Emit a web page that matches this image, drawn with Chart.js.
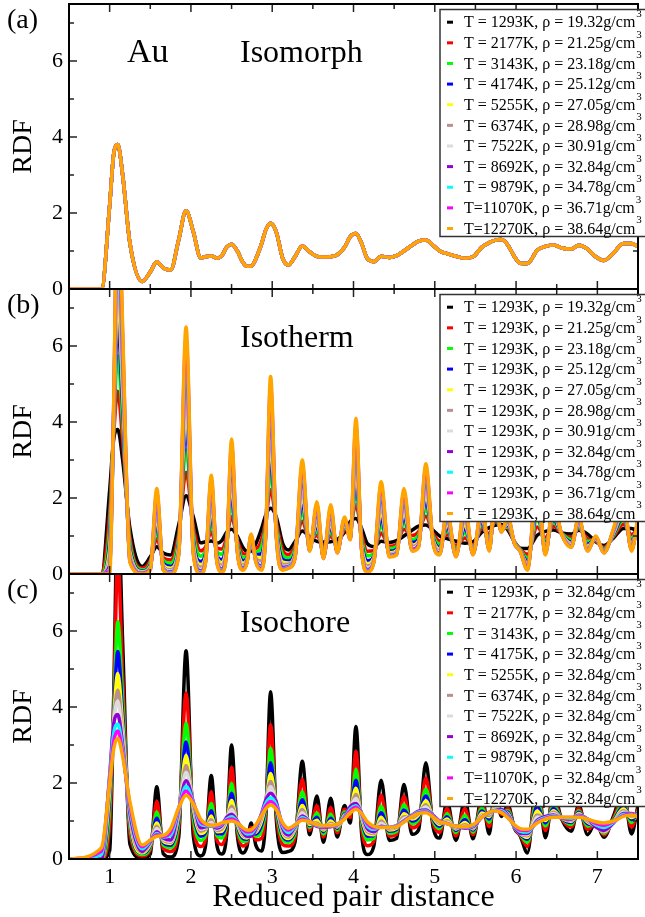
<!DOCTYPE html>
<html>
<head>
<meta charset="utf-8">
<script src="https://cdn.jsdelivr.net/npm/chart.js@4.4.1/dist/chart.umd.min.js"></script>
<style>
  html, body { margin: 0; padding: 0; background: #fff; }
  #wrap { position: relative; width: 645px; height: 917px; }
  #wrap canvas { position: absolute; left: 0; top: 0; }
</style>
</head>
<body>
<div id="wrap">
  <canvas id="panelA" width="645" height="917"></canvas>
  <canvas id="panelB" width="645" height="917"></canvas>
  <canvas id="panelC" width="645" height="917"></canvas>
</div>
<script>
// reduced pair distance, shared by every curve
const rdist = [0.5,0.9,1.0,1.05,1.1,1.16,1.25,1.4,1.5,1.58,
  1.66,1.75,1.85,1.94,2.03,2.12,2.18,2.25,2.32,2.38,
  2.44,2.5,2.57,2.64,2.69,2.74,2.8,2.87,2.92,2.98,
  3.05,3.13,3.2,3.28,3.37,3.46,3.55,3.63,3.72,3.8,
  3.89,3.96,4.03,4.1,4.17,4.25,4.34,4.44,4.53,4.62,
  4.72,4.8,4.89,4.98,5.06,5.15,5.26,5.37,5.47,5.58,
  5.67,5.74,5.82,5.9,5.98,6.05,6.14,6.26,6.36,6.46,
  6.56,6.68,6.77,6.88,6.98,7.08,7.2,7.32,7.42,7.5];

// isomorph curve (all isomorph state points fall on it)
const rdfIsomorph = [0,0,2.2,3.55,3.8,3.0,1.2,0.2,0.45,0.72,
  0.55,0.5,1.3,2.06,1.5,0.82,0.85,0.87,0.81,0.88,
  1.1,1.18,1.0,0.7,0.6,0.6,0.8,1.2,1.55,1.73,
  1.5,0.8,0.63,0.85,1.13,0.98,0.86,0.84,0.85,0.9,
  1.1,1.38,1.46,1.2,0.8,0.72,0.86,0.83,0.88,1.0,
  1.15,1.26,1.29,1.15,1.0,0.93,0.86,0.81,0.85,1.1,
  1.22,1.28,1.3,1.15,0.85,0.68,0.67,1.02,1.12,1.16,
  1.08,1.05,1.15,1.05,0.85,0.75,0.95,1.2,1.2,1.12];

// isotherm T = 1293K
const isoR2125 = [0,0,1.63,3.68,4.81,3.49,0.97,0.15,0.36,0.93,
  0.43,0.37,1.09,2.68,1.24,0.61,0.71,1.11,0.68,0.66,
  0.97,1.51,0.9,0.54,0.52,0.66,0.67,0.91,1.41,2.22,
  1.37,0.62,0.51,0.73,1.39,0.88,1.01,0.73,0.99,0.81,
  1.16,1.26,1.83,1.04,0.6,0.61,1.08,0.73,0.78,1.18,
  1.01,1.11,1.52,1.06,0.87,1.04,0.75,0.95,0.76,1.2,
  1.06,1.38,1.25,1.2,0.84,0.66,0.52,1.24,0.96,1.26,
  1.07,0.96,1.2,0.93,0.87,0.7,0.99,1.31,1.04,1.17];
const isoR2318 = [0,0,1.25,3.81,5.74,3.95,0.81,0.11,0.3,1.13,
  0.36,0.28,0.96,3.26,1.07,0.47,0.61,1.34,0.59,0.52,
  0.88,1.82,0.83,0.44,0.47,0.72,0.58,0.73,1.31,2.67,
  1.28,0.5,0.42,0.66,1.63,0.82,1.14,0.65,1.11,0.75,
  1.21,1.17,2.17,0.94,0.48,0.54,1.28,0.67,0.72,1.34,
  0.91,1.02,1.72,1.0,0.78,1.14,0.68,1.08,0.7,1.29,
  0.95,1.47,1.21,1.24,0.83,0.65,0.42,1.45,0.85,1.36,
  1.07,0.9,1.24,0.86,0.89,0.66,1.02,1.42,0.94,1.22];
const isoR2512 = [0,0,0.88,3.92,6.61,4.37,0.66,0.08,0.24,1.32,
  0.28,0.2,0.82,3.79,0.9,0.33,0.52,1.54,0.5,0.38,
  0.8,2.1,0.76,0.34,0.42,0.78,0.5,0.54,1.22,3.08,
  1.2,0.38,0.34,0.58,1.86,0.75,1.27,0.58,1.23,0.69,
  1.26,1.09,2.49,0.84,0.35,0.47,1.47,0.6,0.65,1.49,
  0.82,0.92,1.92,0.94,0.7,1.23,0.61,1.2,0.64,1.37,
  0.85,1.56,1.18,1.29,0.82,0.63,0.33,1.64,0.75,1.45,
  1.06,0.84,1.29,0.78,0.91,0.63,1.05,1.51,0.84,1.27];
const isoR2705 = [0,0,0.66,4.03,7.4,4.75,0.57,0.06,0.2,1.49,
  0.23,0.15,0.74,4.28,0.8,0.25,0.46,1.74,0.45,0.3,
  0.75,2.37,0.72,0.28,0.39,0.83,0.45,0.43,1.16,3.47,
  1.15,0.31,0.29,0.53,2.07,0.71,1.38,0.53,1.34,0.65,
  1.3,1.04,2.78,0.78,0.27,0.43,1.65,0.56,0.61,1.63,
  0.76,0.87,2.1,0.9,0.65,1.32,0.57,1.31,0.6,1.45,
  0.79,1.64,1.16,1.33,0.82,0.62,0.27,1.81,0.69,1.53,
  1.06,0.8,1.33,0.73,0.93,0.61,1.08,1.6,0.78,1.31];
const isoR2898 = [0,0,0.48,4.12,8.12,5.1,0.5,0.04,0.18,1.64,
  0.2,0.11,0.68,4.72,0.72,0.18,0.42,1.91,0.41,0.23,
  0.71,2.6,0.69,0.23,0.37,0.87,0.41,0.34,1.12,3.81,
  1.11,0.25,0.26,0.5,2.25,0.68,1.48,0.5,1.43,0.63,
  1.34,1.01,3.04,0.73,0.21,0.39,1.8,0.53,0.58,1.75,
  0.72,0.82,2.26,0.88,0.61,1.39,0.54,1.4,0.58,1.52,
  0.74,1.71,1.14,1.36,0.81,0.62,0.23,1.97,0.64,1.6,
  1.06,0.78,1.36,0.7,0.94,0.59,1.1,1.68,0.73,1.35];
const isoR3091 = [0,0,0.33,4.21,8.77,5.42,0.43,0.03,0.15,1.78,
  0.17,0.07,0.62,5.12,0.65,0.12,0.38,2.06,0.38,0.17,
  0.67,2.82,0.66,0.19,0.34,0.91,0.37,0.26,1.08,4.12,
  1.07,0.2,0.22,0.47,2.42,0.66,1.58,0.47,1.52,0.6,
  1.38,0.97,3.28,0.69,0.16,0.36,1.94,0.51,0.56,1.86,
  0.68,0.78,2.4,0.85,0.57,1.46,0.51,1.49,0.55,1.58,
  0.69,1.78,1.13,1.39,0.81,0.61,0.19,2.11,0.59,1.67,
  1.05,0.75,1.39,0.67,0.95,0.58,1.12,1.75,0.69,1.38];
const isoR3284 = [0,0,0.22,4.28,9.34,5.7,0.39,0.02,0.13,1.9,
  0.14,0.05,0.58,5.48,0.6,0.08,0.35,2.2,0.35,0.13,
  0.65,3.0,0.64,0.16,0.33,0.95,0.35,0.21,1.05,4.4,
  1.05,0.17,0.2,0.44,2.57,0.64,1.66,0.44,1.6,0.58,
  1.41,0.95,3.49,0.66,0.12,0.34,2.07,0.49,0.54,1.96,
  0.65,0.76,2.53,0.83,0.55,1.52,0.49,1.57,0.53,1.64,
  0.66,1.83,1.12,1.42,0.81,0.61,0.16,2.24,0.56,1.73,
  1.05,0.73,1.42,0.64,0.97,0.57,1.14,1.82,0.66,1.41];
const isoR3478 = [0,0,0.13,4.36,9.92,5.98,0.35,0.01,0.12,2.02,
  0.13,0.03,0.55,5.83,0.56,0.05,0.33,2.34,0.33,0.1,
  0.63,3.19,0.62,0.14,0.32,0.98,0.33,0.17,1.03,4.68,
  1.03,0.14,0.18,0.43,2.72,0.62,1.74,0.43,1.67,0.57,
  1.44,0.93,3.7,0.64,0.09,0.33,2.19,0.47,0.52,2.06,
  0.63,0.73,2.66,0.82,0.53,1.58,0.47,1.65,0.52,1.7,
  0.64,1.89,1.11,1.45,0.8,0.6,0.13,2.36,0.54,1.79,
  1.05,0.72,1.45,0.63,0.98,0.56,1.16,1.88,0.64,1.44];
const isoR3671 = [0,0,0.07,4.43,10.5,6.26,0.33,0.01,0.11,2.14,
  0.11,0.01,0.52,6.19,0.53,0.02,0.32,2.48,0.32,0.07,
  0.61,3.38,0.61,0.12,0.31,1.02,0.31,0.13,1.02,4.96,
  1.01,0.12,0.16,0.41,2.87,0.61,1.83,0.41,1.75,0.56,
  1.47,0.91,3.92,0.62,0.07,0.31,2.32,0.46,0.51,2.16,
  0.62,0.72,2.79,0.81,0.51,1.65,0.46,1.73,0.51,1.75,
  0.62,1.95,1.11,1.48,0.8,0.6,0.12,2.49,0.52,1.85,
  1.05,0.71,1.48,0.61,0.99,0.56,1.18,1.94,0.62,1.47];
const isoR3864 = [0,0,0,4.5,11,6.5,0.3,0,0.1,2.25,
  0.1,0,0.5,6.5,0.5,0,0.3,2.6,0.3,0.05,
  0.6,3.55,0.6,0.1,0.3,1.05,0.3,0.1,1.0,5.2,
  1.0,0.1,0.15,0.4,3.0,0.6,1.9,0.4,1.82,0.55,
  1.5,0.9,4.1,0.6,0.05,0.3,2.43,0.45,0.5,2.25,
  0.6,0.7,2.9,0.8,0.5,1.7,0.45,1.8,0.5,1.8,
  0.6,2.0,1.1,1.5,0.8,0.6,0.1,2.6,0.5,1.9,
  1.05,0.7,1.5,0.6,1.0,0.55,1.2,2.0,0.6,1.5];

// isochore rho = 32.84 g/cm3
const isoT2177 = [0,0,0.88,4.04,7.9,4.82,0.66,0.08,0.24,1.52,
  0.28,0.2,0.82,4.37,0.9,0.33,0.52,1.77,0.5,0.38,
  0.8,2.41,0.76,0.34,0.42,0.83,0.5,0.54,1.22,3.53,
  1.2,0.38,0.34,0.58,2.1,0.75,1.4,0.58,1.35,0.69,
  1.31,1.09,2.83,0.84,0.35,0.47,1.68,0.6,0.65,1.65,
  0.82,0.92,2.13,0.94,0.7,1.33,0.61,1.32,0.64,1.46,
  0.85,1.65,1.18,1.33,0.82,0.63,0.33,1.84,0.75,1.54,
  1.06,0.84,1.33,0.78,0.93,0.63,1.08,1.62,0.84,1.32];
const isoT3143 = [0,0,1.32,3.87,6.25,4.19,0.84,0.12,0.31,1.24,
  0.37,0.3,0.98,3.57,1.1,0.49,0.63,1.46,0.61,0.55,
  0.9,1.99,0.84,0.46,0.48,0.75,0.6,0.76,1.33,2.91,
  1.3,0.52,0.44,0.67,1.77,0.83,1.21,0.66,1.18,0.76,
  1.24,1.19,2.36,0.96,0.5,0.55,1.39,0.68,0.73,1.43,
  0.93,1.04,1.84,1.01,0.8,1.19,0.7,1.15,0.71,1.34,
  0.97,1.52,1.22,1.27,0.83,0.65,0.44,1.56,0.87,1.41,
  1.07,0.91,1.27,0.87,0.9,0.67,1.04,1.47,0.96,1.25];
const isoT4175 = [0,0,1.61,3.77,5.46,3.81,0.96,0.15,0.36,1.07,
  0.43,0.36,1.08,3.08,1.23,0.6,0.7,1.27,0.67,0.66,
  0.96,1.73,0.89,0.54,0.52,0.7,0.66,0.9,1.4,2.53,
  1.36,0.61,0.5,0.73,1.56,0.88,1.1,0.72,1.07,0.81,
  1.19,1.25,2.07,1.04,0.6,0.61,1.22,0.73,0.78,1.29,
  1.0,1.11,1.66,1.06,0.86,1.11,0.75,1.04,0.76,1.26,
  1.05,1.45,1.25,1.23,0.84,0.66,0.52,1.38,0.95,1.33,
  1.07,0.96,1.23,0.93,0.88,0.7,1.01,1.38,1.04,1.21];
const isoT5255 = [0,0,1.8,3.69,4.88,3.53,1.04,0.16,0.39,0.95,
  0.47,0.41,1.16,2.73,1.32,0.67,0.75,1.13,0.72,0.73,
  1.01,1.54,0.93,0.59,0.55,0.67,0.71,1.0,1.45,2.25,
  1.41,0.67,0.54,0.77,1.41,0.91,1.02,0.76,1.0,0.84,
  1.16,1.29,1.86,1.09,0.66,0.64,1.1,0.76,0.81,1.19,
  1.05,1.16,1.53,1.09,0.91,1.05,0.79,0.96,0.79,1.21,
  1.11,1.39,1.26,1.2,0.84,0.67,0.57,1.26,1.01,1.27,
  1.07,0.99,1.2,0.97,0.87,0.71,0.99,1.32,1.09,1.18];
const isoT6374 = [0,0,1.96,3.64,4.45,3.32,1.1,0.18,0.41,0.86,
  0.5,0.44,1.21,2.46,1.39,0.73,0.79,1.03,0.75,0.79,
  1.04,1.39,0.96,0.63,0.57,0.64,0.74,1.08,1.49,2.04,
  1.44,0.72,0.58,0.8,1.3,0.94,0.95,0.79,0.94,0.86,
  1.14,1.33,1.7,1.13,0.72,0.67,1.0,0.79,0.84,1.11,
  1.09,1.2,1.43,1.11,0.94,1.0,0.81,0.9,0.81,1.16,
  1.15,1.34,1.28,1.18,0.85,0.67,0.61,1.16,1.05,1.23,
  1.08,1.01,1.18,1.0,0.86,0.73,0.97,1.27,1.13,1.15];
const isoT7522 = [0,0,2.09,3.6,4.16,3.18,1.15,0.19,0.43,0.8,
  0.53,0.47,1.26,2.28,1.45,0.78,0.82,0.96,0.78,0.84,
  1.07,1.3,0.98,0.67,0.58,0.62,0.77,1.14,1.52,1.9,
  1.47,0.76,0.61,0.83,1.22,0.96,0.91,0.82,0.9,0.88,
  1.12,1.36,1.59,1.17,0.76,0.7,0.94,0.81,0.86,1.06,
  1.12,1.23,1.37,1.13,0.97,0.97,0.84,0.86,0.83,1.14,
  1.19,1.32,1.29,1.17,0.85,0.68,0.64,1.1,1.09,1.2,
  1.08,1.03,1.17,1.03,0.86,0.74,0.96,1.24,1.17,1.14];
const isoT9879 = [0,0.12,2.12,3.29,3.55,2.88,1.32,0.27,0.47,0.67,
  0.58,0.62,1.32,1.91,1.48,0.91,0.88,0.87,0.85,0.91,
  1.05,1.11,0.98,0.75,0.66,0.67,0.84,1.18,1.46,1.61,
  1.42,0.86,0.7,0.87,1.09,0.98,0.88,0.86,0.86,0.91,
  1.08,1.32,1.4,1.2,0.87,0.78,0.85,0.83,0.87,0.99,
  1.14,1.24,1.26,1.13,0.99,0.93,0.86,0.83,0.87,1.1,
  1.22,1.28,1.27,1.12,0.87,0.73,0.71,0.99,1.09,1.14,
  1.09,1.07,1.13,1.05,0.9,0.83,0.97,1.17,1.18,1.12];
const isoT11070 = [0,0.21,2.06,3.09,3.37,2.79,1.41,0.32,0.49,0.64,
  0.6,0.71,1.34,1.79,1.47,0.98,0.91,0.88,0.87,0.93,
  1.02,1.05,0.97,0.78,0.71,0.72,0.87,1.17,1.39,1.51,
  1.36,0.91,0.76,0.89,1.05,0.98,0.89,0.87,0.87,0.91,
  1.07,1.27,1.36,1.2,0.93,0.82,0.84,0.83,0.86,0.98,
  1.13,1.22,1.24,1.12,0.99,0.93,0.86,0.84,0.89,1.1,
  1.23,1.27,1.24,1.1,0.89,0.76,0.75,0.97,1.07,1.12,
  1.09,1.09,1.12,1.05,0.94,0.89,0.99,1.14,1.17,1.12];
const isoT12270 = [0,0.3,2.0,2.9,3.18,2.7,1.5,0.37,0.5,0.6,
  0.62,0.8,1.35,1.68,1.45,1.05,0.93,0.88,0.9,0.95,
  0.98,1.0,0.95,0.82,0.76,0.77,0.9,1.15,1.32,1.42,
  1.3,0.95,0.81,0.9,1.02,0.98,0.9,0.88,0.88,0.92,
  1.05,1.22,1.31,1.2,0.98,0.86,0.83,0.83,0.85,0.97,
  1.12,1.2,1.22,1.1,0.98,0.93,0.86,0.85,0.9,1.1,
  1.23,1.27,1.22,1.08,0.9,0.8,0.78,0.95,1.05,1.1,
  1.1,1.1,1.1,1.05,0.98,0.95,1.0,1.12,1.16,1.12];

const labelsA = ["T = 1293K, ρ = 19.32g/cm", "T = 2177K, ρ = 21.25g/cm", "T = 3143K, ρ = 23.18g/cm",
  "T = 4174K, ρ = 25.12g/cm", "T = 5255K, ρ = 27.05g/cm", "T = 6374K, ρ = 28.98g/cm",
  "T = 7522K, ρ = 30.91g/cm", "T = 8692K, ρ = 32.84g/cm", "T = 9879K, ρ = 34.78g/cm",
  "T=11070K, ρ = 36.71g/cm", "T=12270K, ρ = 38.64g/cm"];
const labelsB = ["T = 1293K, ρ = 19.32g/cm", "T = 1293K, ρ = 21.25g/cm", "T = 1293K, ρ = 23.18g/cm",
  "T = 1293K, ρ = 25.12g/cm", "T = 1293K, ρ = 27.05g/cm", "T = 1293K, ρ = 28.98g/cm",
  "T = 1293K, ρ = 30.91g/cm", "T = 1293K, ρ = 32.84g/cm", "T = 1293K, ρ = 34.78g/cm",
  "T = 1293K, ρ = 36.71g/cm", "T = 1293K, ρ = 38.64g/cm"];
const labelsC = ["T = 1293K, ρ = 32.84g/cm", "T = 2177K, ρ = 32.84g/cm", "T = 3143K, ρ = 32.84g/cm",
  "T = 4175K, ρ = 32.84g/cm", "T = 5255K, ρ = 32.84g/cm", "T = 6374K, ρ = 32.84g/cm",
  "T = 7522K, ρ = 32.84g/cm", "T = 8692K, ρ = 32.84g/cm", "T = 9879K, ρ = 32.84g/cm",
  "T=11070K, ρ = 32.84g/cm", "T=12270K, ρ = 32.84g/cm"];

const seriesA = [rdfIsomorph, rdfIsomorph, rdfIsomorph, rdfIsomorph, rdfIsomorph, rdfIsomorph,
  rdfIsomorph, rdfIsomorph, rdfIsomorph, rdfIsomorph, rdfIsomorph];
const seriesB = [rdfIsomorph, isoR2125, isoR2318, isoR2512, isoR2705, isoR2898,
  isoR3091, isoR3284, isoR3478, isoR3671, isoR3864];
const seriesC = [isoR3284, isoT2177, isoT3143, isoT4175, isoT5255, isoT6374,
  isoT7522, rdfIsomorph, isoT9879, isoT11070, isoT12270];

const lineColors = ["#000000", "#ff0000", "#00ff00", "#0000ff", "#ffff00", "#bc8f8f",
  "#dcdcdc", "#9400d3", "#00ffff", "#ff00ff", "#ffa500"];

const xMajor = [1, 2, 3, 4, 5, 6, 7];
const xMinor = [1.5, 2.5, 3.5, 4.5, 5.5, 6.5];
const yMajor = [0, 2, 4, 6];
const yMinor = [1, 3, 5, 7];

const serif = '"Liberation Serif", "Times New Roman", serif';
Chart.defaults.font.family = serif;
Chart.defaults.color = "#000";

// frame, inward ticks, legend box and panel labels
const panelDecor = {
  id: "panelDecor",
  afterDraw(chart, args, opts) {
    const ctx = chart.ctx;
    const a = chart.chartArea;
    const xs = chart.scales.x, ys = chart.scales.y;
    ctx.save();
    ctx.strokeStyle = "#222";
    ctx.lineWidth = 1.5;
    const tick = (px, py, dx, dy) => {
      ctx.beginPath(); ctx.moveTo(px, py); ctx.lineTo(px + dx, py + dy); ctx.stroke();
    };
    xMajor.forEach(v => { const p = xs.getPixelForValue(v); tick(p, a.bottom, 0, -8); tick(p, a.top, 0, 8); });
    xMinor.forEach(v => { const p = xs.getPixelForValue(v); tick(p, a.bottom, 0, -5); tick(p, a.top, 0, 5); });
    yMajor.forEach(v => { const p = ys.getPixelForValue(v); tick(a.left, p, 8, 0); tick(a.right, p, -8, 0); });
    yMinor.forEach(v => { const p = ys.getPixelForValue(v); tick(a.left, p, 5, 0); tick(a.right, p, -5, 0); });

    ctx.strokeStyle = "#000";
    ctx.lineWidth = 2;
    ctx.strokeRect(a.left, a.top, a.right - a.left, a.bottom - a.top);

    // legend
    const lx = 440, ly = a.top + 5.5, step = 20.63;
    ctx.fillStyle = "#fff";
    ctx.fillRect(lx, ly, 240, 227);
    ctx.strokeStyle = "#333";
    ctx.lineWidth = 1.5;
    ctx.strokeRect(lx, ly, 240, 227);
    ctx.textAlign = "left";
    chart.data.datasets.forEach((ds, i) => {
      const cy = ly + 12.7 + i * step;
      ctx.fillStyle = ds.borderColor;
      ctx.fillRect(447, cy - 1.5, 6, 3);
      ctx.fillStyle = "#000";
      ctx.font = "16px " + serif;
      ctx.textBaseline = "middle";
      ctx.fillText(ds.label, 464, cy + 1);
      const w = ctx.measureText(ds.label).width;
      ctx.font = "11px " + serif;
      ctx.fillText("3", 464 + w + 1, cy - 8);
    });

    ctx.fillStyle = "#000";
    ctx.textBaseline = "alphabetic";
    ctx.font = "28px " + serif;
    ctx.fillText(opts.tag, 7, a.top + 24);
    ctx.font = "32px " + serif;
    ctx.fillText(opts.title, 240, a.top + 57.5);
    if (opts.element) {
      ctx.font = "34px " + serif;
      ctx.fillText(opts.element, 127, a.top + 57.5);
    }
    ctx.restore();
  }
};

function makePanel(id, series, labels, deco, pad, showX) {
  const datasets = series.map((ys, i) => ({
    label: labels[i],
    data: rdist.map((x, j) => ({ x: x, y: ys[j] })),
    borderColor: lineColors[i],
    borderWidth: 3.5,
    pointRadius: 0,
    cubicInterpolationMode: "monotone",
    borderJoinStyle: "round",
    clip: 0,
    order: series.length - 1 - i
  }));
  return new Chart(document.getElementById(id), {
    type: "line",
    data: { datasets: datasets },
    plugins: [panelDecor],
    options: {
      responsive: false,
      devicePixelRatio: 1,
      animation: false,
      events: [],
      layout: { autoPadding: false, padding: { left: 0, right: 7, top: pad.top, bottom: pad.bottom } },
      plugins: { legend: { display: false }, tooltip: { enabled: false }, panelDecor: deco },
      scales: {
        x: {
          type: "linear", min: 0.5, max: 7.5,
          display: showX,
          afterBuildTicks: s => { s.ticks = xMajor.map(v => ({ value: v })); },
          afterFit: s => { s.height = showX ? 58 : 0; s.paddingLeft = 0; s.paddingRight = 0; },
          grid: { display: false, drawTicks: false },
          border: { display: false },
          ticks: { font: { size: 22 }, padding: 5, color: "#000" },
          title: { display: true, text: "Reduced pair distance", font: { size: 32 }, padding: { top: 0, bottom: 0 }, color: "#000" }
        },
        y: {
          type: "linear", min: 0, max: 7.5,
          afterBuildTicks: s => { s.ticks = yMajor.map(v => ({ value: v })); },
          afterFit: s => { s.width = 69; s.paddingTop = 0; s.paddingBottom = 0; },
          grid: { display: false, drawTicks: false },
          border: { display: false },
          ticks: { font: { size: 22 }, padding: 6, color: "#000" },
          title: { display: true, text: "RDF", font: { size: 28 }, padding: { top: 7, bottom: 0 }, color: "#000" }
        }
      }
    }
  });
}

makePanel("panelA", seriesA, labelsA, { tag: "(a)", title: "Isomorph", element: "Au" }, { top: 4, bottom: 628 }, false);
makePanel("panelB", seriesB, labelsB, { tag: "(b)", title: "Isotherm" }, { top: 289, bottom: 343 }, false);
makePanel("panelC", seriesC, labelsC, { tag: "(c)", title: "Isochore" }, { top: 574, bottom: 0 }, true);
</script>
</body>
</html>
